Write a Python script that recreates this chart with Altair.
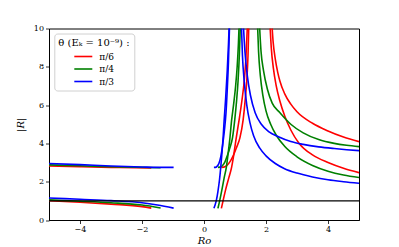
import altair as alt
import pandas as pd

# ---- left branch (Ro < 0) ----
ro_red_lo = [-5.0, -4.0, -3.0, -2.0, -1.70]
r_red_lo = [1.01, 0.93, 0.83, 0.70, 0.62]
ro_grn_lo = [-5.0, -4.0, -3.0, -2.0, -1.40]
r_grn_lo = [1.05, 0.98, 0.90, 0.78, 0.63]
ro_blu_lo = [-5.0, -4.0, -3.0, -2.0, -1.5, -0.98]
r_blu_lo = [1.15, 1.08, 1.01, 0.90, 0.78, 0.62]
ro_red_hi = [-5.0, -4.0, -3.0, -1.70]
r_red_hi = [2.82, 2.78, 2.75, 2.72]
ro_grn_hi = [-5.0, -4.0, -3.0, -1.40]
r_grn_hi = [2.88, 2.83, 2.78, 2.73]
ro_blu_hi = [-5.0, -4.0, -3.0, -2.0, -1.5, -0.98]
r_blu_hi = [2.95, 2.89, 2.82, 2.77, 2.75, 2.75]

# ---- right branch, rising curves ----
ro_blu_rise_lo = [0.32, 0.36, 0.40, 0.45, 0.50, 0.54, 0.58, 0.62, 0.65, 0.70, 0.75, 0.79, 0.82]
r_blu_rise_lo = [0.61, 0.80, 1.04, 1.50, 2.10, 2.75, 3.50, 4.40, 5.20, 6.40, 7.80, 9.20, 10.5]
ro_blu_rise_hi = [0.32, 0.37, 0.42, 0.48, 0.54, 0.60, 0.66, 0.71, 0.75, 0.79, 0.83]
r_blu_rise_hi = [2.75, 2.75, 2.80, 2.95, 3.30, 3.90, 4.70, 5.60, 6.80, 8.30, 10.5]
ro_grn_rise_lo = [0.45, 0.51, 0.58, 0.65, 0.72, 0.78, 0.83, 0.89, 0.96, 1.02, 1.07, 1.11, 1.14]
r_grn_rise_lo = [0.61, 1.04, 1.60, 2.20, 2.75, 3.50, 4.18, 5.20, 6.10, 7.00, 8.00, 9.20, 10.5]
ro_grn_rise_hi = [0.45, 0.52, 0.60, 0.68, 0.76, 0.84, 0.92, 0.99, 1.05, 1.10, 1.14, 1.18]
r_grn_rise_hi = [2.75, 2.76, 2.85, 3.05, 3.40, 3.80, 4.30, 5.20, 6.20, 7.30, 8.60, 10.5]
ro_red_rise_lo = [0.56, 0.62, 0.70, 0.80, 0.89, 0.96, 1.03, 1.13, 1.22, 1.30, 1.35, 1.41]
r_red_rise_lo = [0.61, 1.04, 1.60, 2.20, 2.75, 3.40, 4.18, 5.20, 6.20, 7.30, 8.40, 10.5]
ro_red_rise_hi = [0.56, 0.64, 0.74, 0.84, 0.94, 1.04, 1.16, 1.26, 1.33, 1.38, 1.42, 1.45]
r_red_rise_hi = [2.75, 2.76, 2.85, 3.05, 3.35, 3.75, 4.30, 5.20, 6.30, 7.30, 8.60, 10.5]

# ---- right branch, falling curves ----
ro_blu_fall_lo = [1.20, 1.24, 1.30, 1.38, 1.48, 1.60, 1.80, 2.00, 2.30, 2.60, 3.00, 3.50, 4.00, 4.50, 5.00]
r_blu_fall_lo = [10.5, 8.60, 7.20, 6.00, 5.10, 4.40, 3.75, 3.35, 2.95, 2.68, 2.45, 2.25, 2.10, 2.00, 1.92]
ro_blu_fall_hi = [1.26, 1.32, 1.40, 1.50, 1.65, 1.85, 2.10, 2.40, 2.80, 3.20, 3.70, 4.20, 4.60, 5.00]
r_blu_fall_hi = [10.5, 8.80, 7.50, 6.50, 5.60, 5.00, 4.60, 4.35, 4.10, 3.95, 3.82, 3.73, 3.67, 3.62]
ro_grn_fall_lo = [1.72, 1.76, 1.82, 1.90, 2.00, 2.15, 2.34, 2.60, 3.00, 3.50, 4.00, 4.50, 5.00]
r_grn_fall_lo = [10.5, 8.80, 7.50, 6.50, 5.70, 5.00, 4.40, 3.85, 3.30, 2.85, 2.55, 2.35, 2.22]
ro_grn_fall_hi = [1.78, 1.84, 1.92, 2.05, 2.20, 2.45, 2.80, 3.20, 3.70, 4.20, 4.60, 5.00]
r_grn_fall_hi = [10.5, 8.80, 7.80, 6.80, 6.10, 5.60, 5.00, 4.55, 4.20, 4.00, 3.90, 3.83]
ro_red_fall_lo = [2.12, 2.17, 2.24, 2.33, 2.45, 2.61, 2.80, 3.07, 3.50, 4.00, 4.50, 5.00]
r_red_fall_lo = [10.5, 9.00, 7.90, 7.00, 6.20, 5.40, 4.70, 4.00, 3.40, 3.00, 2.70, 2.47]
ro_red_fall_hi = [2.18, 2.23, 2.30, 2.38, 2.45, 2.60, 2.80, 3.00, 3.50, 4.00, 4.50, 5.00]
r_red_fall_hi = [10.5, 9.30, 8.40, 7.70, 7.25, 6.60, 6.05, 5.65, 5.05, 4.65, 4.33, 4.09]

theta_labels = ["π/6", "π/4", "π/3"]
theta_colors = ["#ff0000", "#008000", "#0000ff"]
x_ticks = [-4, -2, 0, 2, 4]
y_ticks = [0, 2, 4, 6, 8, 10]
ref_level = [1.0]

curves = [
    ("π/6", "red_lo", ro_red_lo, r_red_lo),
    ("π/4", "grn_lo", ro_grn_lo, r_grn_lo),
    ("π/3", "blu_lo", ro_blu_lo, r_blu_lo),
    ("π/6", "red_hi", ro_red_hi, r_red_hi),
    ("π/4", "grn_hi", ro_grn_hi, r_grn_hi),
    ("π/3", "blu_hi", ro_blu_hi, r_blu_hi),
    ("π/6", "red_rise_lo", ro_red_rise_lo, r_red_rise_lo),
    ("π/6", "red_rise_hi", ro_red_rise_hi, r_red_rise_hi),
    ("π/6", "red_fall_lo", ro_red_fall_lo, r_red_fall_lo),
    ("π/6", "red_fall_hi", ro_red_fall_hi, r_red_fall_hi),
    ("π/4", "grn_rise_lo", ro_grn_rise_lo, r_grn_rise_lo),
    ("π/4", "grn_rise_hi", ro_grn_rise_hi, r_grn_rise_hi),
    ("π/4", "grn_fall_lo", ro_grn_fall_lo, r_grn_fall_lo),
    ("π/4", "grn_fall_hi", ro_grn_fall_hi, r_grn_fall_hi),
    ("π/3", "blu_rise_lo", ro_blu_rise_lo, r_blu_rise_lo),
    ("π/3", "blu_rise_hi", ro_blu_rise_hi, r_blu_rise_hi),
    ("π/3", "blu_fall_lo", ro_blu_fall_lo, r_blu_fall_lo),
    ("π/3", "blu_fall_hi", ro_blu_fall_hi, r_blu_fall_hi),
]

rows = []
for theta, name, xs, ys in curves:
    for i, (x, y) in enumerate(zip(xs, ys)):
        rows.append({"theta": theta, "curve": name, "i": i, "Ro": x, "R": y})
df = pd.DataFrame(rows)
ref_df = pd.DataFrame({"R": ref_level})

FONT = "DejaVu Serif"

x_scale = alt.Scale(domain=[-5, 5], nice=False, zero=False)
y_scale = alt.Scale(domain=[0, 10], nice=False, zero=False)

x_axis = alt.Axis(values=x_ticks, title="Ro", titleFontStyle="italic", grid=False,
                  labelExpr="replace(datum.label, '-', '−')",
                  labelOverlap=False, labelFlush=False,
                  titleBaseline="alphabetic", titleY=23.5)
y_axis = alt.Axis(values=y_ticks, tickCount=6, title="|R|", titleFontStyle="italic", grid=False,
                  labelOverlap=False, labelFlush=False, labelBound=False)

lines = alt.Chart(df).mark_line(strokeWidth=1.6, clip=True, interpolate="monotone").encode(
    x=alt.X("Ro:Q", scale=x_scale, axis=x_axis),
    y=alt.Y("R:Q", scale=y_scale, axis=y_axis),
    color=alt.Color(
        "theta:N",
        scale=alt.Scale(domain=theta_labels, range=theta_colors),
        legend=alt.Legend(
            title="θ (Eₖ = 10⁻⁹) :",
            orient="none", legendX=5.3, legendY=5,
            symbolType="M-1.5,0L1.5,0", symbolSize=144, symbolStrokeWidth=1.6,
            symbolOffset=18, symbolFillColor="transparent",
            fillColor="white", strokeColor="#d0d0d0", cornerRadius=3,
            padding=4, titlePadding=2, rowPadding=0.5, labelOffset=9,
            titleFont=FONT, titleFontSize=10, titleFontWeight="normal", titleColor="black",
            labelFont=FONT, labelFontSize=9, labelColor="black",
        ),
    ),
    detail="curve:N",
    order="i:Q",
)

ref = alt.Chart(ref_df).mark_rule(color="black", strokeWidth=1.4).encode(
    y=alt.Y("R:Q", scale=y_scale, axis=y_axis)
)

chart = alt.layer(lines, ref).properties(
    width=310, height=191.5,
    autosize=alt.AutoSizeParams(type="none"),
    padding={"left": 41, "top": 20.5, "right": 32, "bottom": 27},
).configure_view(
    stroke="black", strokeWidth=1,
).configure_axis(
    labelFont=FONT, titleFont=FONT, labelFontSize=8, titleFontSize=10,
    titleFontWeight="normal", labelColor="black", titleColor="black",
    tickColor="black", domainColor="black", tickSize=3.5, labelPadding=2,
    domainWidth=1, tickWidth=0.8,
).configure_axisY(titlePadding=8)

chart.save("out.html", embed_options={"renderer": "svg", "actions": False})
